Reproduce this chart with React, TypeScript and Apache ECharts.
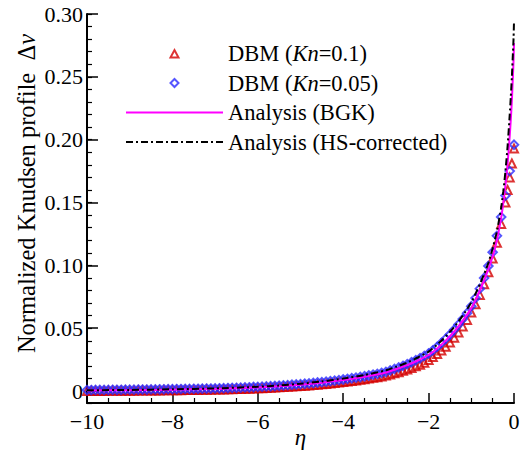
import React, { useEffect, useRef } from 'react';
import * as echarts from 'echarts';

const FONT = 'Liberation Serif';

// eta grid for the DBM (Kn = 0.05) markers
const etaKn005 = [-10,-9.9,-9.8,-9.7,-9.6,-9.5,-9.4,-9.3,-9.2,-9.1,-9,-8.9,-8.8,-8.7,-8.6,-8.5,-8.4,-8.3,-8.2,-8.1,-8,-7.9,-7.8,-7.7,-7.6,-7.5,-7.4,-7.3,-7.2,-7.1,-7,-6.9,-6.8,-6.7,-6.6,-6.5,-6.4,-6.3,-6.2,-6.1,-6,-5.9,-5.8,-5.7,-5.6,-5.5,-5.4,-5.3,-5.2,-5.1,-5,-4.9,-4.8,-4.7,-4.6,-4.5,-4.4,-4.3,-4.2,-4.1,-4,-3.9,-3.8,-3.7,-3.6,-3.5,-3.4,-3.3,-3.2,-3.1,-3,-2.9,-2.8,-2.7,-2.6,-2.5,-2.4,-2.3,-2.2,-2.1,-2,-1.9,-1.8,-1.7,-1.6,-1.5,-1.4,-1.3,-1.2,-1.1,-1,-0.9,-0.8,-0.7,-0.6,-0.5,-0.4,-0.3,-0.2,-0.1,0];
const dvKn005 = [
  0.0008,0.0008,0.0009,0.0009,0.0009,0.0009,0.0010,0.0010,0.0010,0.0011,0.0011,
  0.0011,0.0012,0.0012,0.0012,0.0013,0.0013,0.0014,0.0014,0.0015,0.0015,
  0.0016,0.0016,0.0017,0.0017,0.0018,0.0018,0.0019,0.0020,0.0020,0.0021,
  0.0022,0.0023,0.0024,0.0025,0.0026,0.0027,0.0029,0.0030,0.0032,0.0033,
  0.0035,0.0037,0.0038,0.0040,0.0042,0.0045,0.0047,0.0050,0.0052,0.0055,
  0.0058,0.0061,0.0064,0.0068,0.0071,0.0075,0.0079,0.0083,0.0087,0.0092,
  0.0097,0.0102,0.0107,0.0112,0.0118,0.0124,0.0131,0.0137,0.0145,0.0152,
  0.0164,0.0176,0.0188,0.0201,0.0214,0.0229,0.0245,0.0261,0.0280,0.0299,
  0.0324,0.0352,0.0383,0.0415,0.0450,0.0488,0.0529,0.0573,0.0620,0.0675,
  0.0740,0.0815,0.0900,0.0995,0.1105,0.1235,0.1385,0.1555,0.1750,0.1960
];

// eta grid for the DBM (Kn = 0.1) markers
const etaKn01 = [-10,-9.9,-9.8,-9.7,-9.6,-9.5,-9.4,-9.3,-9.2,-9.1,-9,-8.9,-8.8,-8.7,-8.6,-8.5,-8.4,-8.3,-8.2,-8.1,-8,-7.9,-7.8,-7.7,-7.6,-7.5,-7.4,-7.3,-7.2,-7.1,-7,-6.9,-6.8,-6.7,-6.6,-6.5,-6.4,-6.3,-6.2,-6.1,-6,-5.9,-5.8,-5.7,-5.6,-5.5,-5.4,-5.3,-5.2,-5.1,-5,-4.9,-4.8,-4.7,-4.6,-4.5,-4.4,-4.3,-4.2,-4.1,-4,-3.9,-3.8,-3.7,-3.6,-3.5,-3.4,-3.3,-3.2,-3.1,-3,-2.9,-2.8,-2.7,-2.6,-2.5,-2.4,-2.3,-2.2,-2.1,-2,-1.9,-1.8,-1.7,-1.6,-1.5,-1.4,-1.3,-1.2,-1.1,-1,-0.9,-0.8,-0.7,-0.6,-0.5,-0.4,-0.3,-0.2,-0.15,-0.1,-0.05,0];
const dvKn01 = [
  0.0000,0.0001,0.0001,0.0001,0.0001,0.0002,0.0002,0.0002,0.0002,0.0003,0.0003,
  0.0003,0.0004,0.0004,0.0004,0.0004,0.0005,0.0005,0.0006,0.0006,0.0006,
  0.0007,0.0007,0.0008,0.0008,0.0009,0.0009,0.0010,0.0010,0.0011,0.0012,
  0.0012,0.0013,0.0014,0.0015,0.0016,0.0017,0.0018,0.0019,0.0020,0.0022,
  0.0023,0.0025,0.0026,0.0028,0.0030,0.0032,0.0034,0.0036,0.0038,0.0040,
  0.0043,0.0045,0.0048,0.0051,0.0054,0.0057,0.0061,0.0064,0.0068,0.0072,
  0.0076,0.0080,0.0085,0.0089,0.0094,0.0099,0.0105,0.0110,0.0116,0.0123,
  0.0131,0.0141,0.0150,0.0161,0.0172,0.0184,0.0197,0.0210,0.0226,0.0248,
  0.0270,0.0295,0.0322,0.0352,0.0386,0.0424,0.0466,0.0513,0.0566,0.0625,
  0.0690,0.0765,0.0850,0.0945,0.1055,0.1180,0.1330,0.1500,0.1600,0.1700,0.1810,0.1930
];

// analytical curves
const etaLine = [-10,-9,-8,-7,-6,-5.5,-5,-4.5,-4,-3.5,-3,-2.75,-2.5,-2.25,-2,-1.8,-1.6,-1.4,-1.2,-1,-0.9,-0.8,-0.7,-0.6,-0.5,-0.4,-0.3,-0.25,-0.2,-0.15,-0.1,-0.075,-0.05,-0.025,-0.01,0];
const dvBGK = [0.0004,0.0007,0.0011,0.0017,0.0029,0.00384,0.0051,0.0067,0.0088,0.01141,0.0148,0.0175,0.0206,0.0243,0.0287,0.0339,0.0401,0.0474,0.0560,0.0660,0.0725,0.0800,0.0880,0.0970,0.1070,0.1200,0.1380,0.1500,0.1640,0.1810,0.2030,0.2160,0.2310,0.2510,0.2640,0.2770];
const dvHS = [0.0006,0.0009,0.0014,0.0021,0.0034,0.0044,0.0058,0.0076,0.0099,0.0128,0.0165,0.0194,0.0227,0.0267,0.0314,0.0369,0.0434,0.0510,0.0600,0.0705,0.0775,0.0850,0.0930,0.1020,0.1135,0.1270,0.1460,0.1590,0.1750,0.1950,0.2200,0.2340,0.2500,0.2690,0.2810,0.2940];

const names = ['DBM (Kn=0.1)', 'DBM (Kn=0.05)', 'Analysis (BGK)', 'Analysis (HS-corrected)'];

const pair = (xs: number[], ys: number[]) => xs.map((x, i) => [x, ys[i]]);

// legend icons: a small marker centred in a 97 x 9 slot
const triIcon = 'path://M0,0M97,9M44.5,8.5L48.5,1L52.5,8.5Z';
const diaIcon = 'path://M0,0M97,9M48.5,0.5L52.5,4.5L48.5,8.5L44.5,4.5Z';

export default function App() {
  const ref = useRef<HTMLDivElement>(null);
  useEffect(() => {
    const chart = echarts.init(ref.current!, null, { renderer: 'svg' });
    const axisText = { color: '#000', fontFamily: FONT, fontSize: 22 };
    chart.setOption({
      animation: false,
      backgroundColor: '#fff',
      grid: { left: 87, right: 14, top: 14, bottom: 50, outerBoundsMode: 'none', containLabel: false },
      legend: {
        left: 120,
        top: 37,
        orient: 'vertical',
        itemGap: 6.5,
        itemWidth: 97,
        itemHeight: 9,
        selectedMode: false,
        data: [
          { name: names[0], icon: triIcon },
          { name: names[1], icon: diaIcon },
          { name: names[2] },
          { name: names[3] },
        ],
        formatter: (n: string) => n.replace('Kn', '{i|Kn}'),
        textStyle: {
          color: '#000', fontFamily: FONT, fontSize: 22.5, lineHeight: 22,
          rich: { i: { fontStyle: 'italic', fontFamily: FONT, fontSize: 22.5, lineHeight: 22, color: '#000' } },
        },
      },
      xAxis: {
        type: 'value', min: -10, max: 0, interval: 2,
        axisLine: { onZero: false, lineStyle: { color: '#000', width: 2 } },
        axisTick: { inside: true, length: 10, lineStyle: { color: '#000', width: 1.5 } },
        minorTick: { show: true, splitNumber: 4, length: 5, lineStyle: { color: '#000', width: 1.2 } },
        splitLine: { show: false },
        minorSplitLine: { show: false },
        axisLabel: { ...axisText, margin: 7, formatter: (v: number) => (v < 0 ? '\u2212' + Math.abs(v) : '0') },
        name: 'η', nameLocation: 'middle', nameGap: 23, nameMoveOverlap: false,
        nameTextStyle: { color: '#000', fontFamily: FONT, fontSize: 23, fontStyle: 'italic' },
      },
      yAxis: [
        {
          type: 'value', min: -0.0095, max: 0.30, splitNumber: 6, minInterval: 0.05, maxInterval: 0.05,
          axisLine: { onZero: false, lineStyle: { color: '#000', width: 2 } },
          axisTick: { inside: true, length: 11, lineStyle: { color: '#000', width: 1.5 } },
          splitLine: { show: false },
          axisLabel: {
            ...axisText, margin: 4,
            formatter: (v: number) => (v < -1e-9 ? '' : Math.abs(v) < 1e-9 ? '0' : v.toFixed(2)),
          },
          name: 'Normalized Knudsen profile  Δ{i|v}', nameLocation: 'middle', nameGap: 48, nameMoveOverlap: false,
          nameTextStyle: {
            color: '#000', fontFamily: FONT, fontSize: 24.5, padding: [0, 0, 0, 30],
            rich: { i: { fontStyle: 'italic', fontFamily: FONT, fontSize: 24.5, color: '#000' } },
          },
        },
        {
          type: 'value', min: -0.0095, max: 0.30, splitNumber: 31, minInterval: 0.01, maxInterval: 0.01,
          position: 'left',
          axisLine: { show: false, onZero: false },
          axisTick: { inside: true, length: 5, lineStyle: { color: '#000', width: 1.2 } },
          axisLabel: { show: false },
          splitLine: { show: false },
        },
      ],
      series: [
        {
          type: 'scatter', name: names[0], data: pair(etaKn01, dvKn01),
          symbol: 'triangle', symbolSize: 8, clip: false,
          itemStyle: { color: 'rgba(0,0,0,0)', borderColor: '#d40000', borderWidth: 2 },
        },
        {
          type: 'scatter', name: names[1], data: pair(etaKn005, dvKn005),
          symbol: 'diamond', symbolSize: 8.5, clip: false,
          itemStyle: { color: 'rgba(0,0,0,0)', borderColor: '#2a2aff', borderWidth: 2 },
        },
        {
          type: 'line', name: names[2], data: pair(etaLine, dvBGK),
          symbol: 'none', smooth: 0.2, clip: false,
          lineStyle: { color: '#ff00ff', width: 2 },
          itemStyle: { color: 'rgba(0,0,0,0)', borderWidth: 0 },
        },
        {
          type: 'line', name: names[3], data: pair(etaLine, dvHS),
          symbol: 'none', smooth: 0.2, clip: false,
          lineStyle: { color: '#000', width: 2, type: [7, 3, 2, 3] },
          itemStyle: { color: 'rgba(0,0,0,0)', borderWidth: 0 },
        },
      ],
    });
    return () => chart.dispose();
  }, []);
  return (
    <div
      ref={ref}
      style={{ position: 'absolute', left: 0, top: 0, width: 528, height: 453, background: '#fff' }}
    />
  );
}
